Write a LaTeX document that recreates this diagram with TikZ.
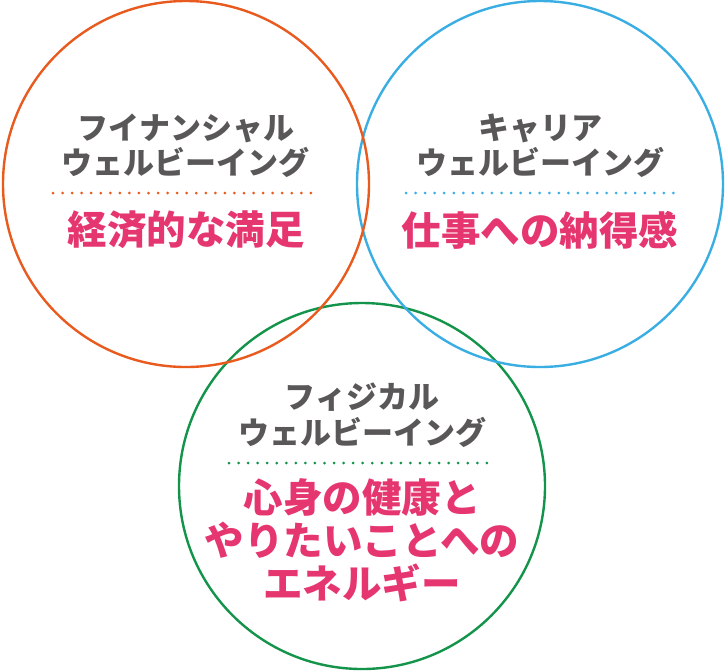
\documentclass[tikz,border=0pt]{standalone}
\usepackage{fontspec}
\newfontfamily\jp{Noto Sans CJK JP}
\definecolor{corange}{HTML}{E95A1E}
\definecolor{cblue}{HTML}{3AAEE3}
\definecolor{cgreen}{HTML}{13944A}
\definecolor{cpink}{HTML}{E5366F}
\definecolor{cgray}{HTML}{595757}
\tikzset{
  ring/.style={circle, draw, line width=2.4pt, minimum size=366pt, inner sep=0pt},
  head/.style={text=cgray, font=\jp\bfseries\fontsize{31}{35}\selectfont, inner sep=0pt, align=center},
  main/.style={text=cpink, font=\jp\bfseries\fontsize{39.5}{43}\selectfont, inner sep=0pt, align=center},
  dots/.style={line width=3pt, line cap=round, dash pattern=on 0pt off 9.55pt},
}
\begin{document}
\begin{tikzpicture}[x=1pt,y=1pt]
\useasboundingbox (0,0) rectangle (725,-670);
\node[ring, draw=cgreen] (phy) at (362,-486) {};
\node[ring, draw=cblue] (car) at (540,-184) {};
\node[ring, draw=corange] (fin) at (186,-184) {};
% financial
\node[head] (finh1) at (186,-128) {フイナンシャル};
\node[head] (finh2) at (185,-162) {ウェルビーイング};
\coordinate (finl) at (53,-193);
\coordinate (finr) at (320,-193);
\draw[dots, corange] (finl) -- (finr);
\node[main] (finm) at (186,-230) {経済的な満足};
% career
\node[head] (carh1) at (540,-128) {キャリア};
\node[head] (carh2) at (540,-162) {ウェルビーイング};
\coordinate (carl) at (406,-193);
\coordinate (carr) at (676,-193);
\draw[dots, cblue] (carl) -- (carr);
\node[main] (carm) at (540,-230) {仕事への納得感};
% physical
\node[head] (phyh1) at (362,-397) {フィジカル};
\node[head] (phyh2) at (362,-432) {ウェルビーイング};
\coordinate (phyl) at (229,-463);
\coordinate (phyr) at (496,-463);
\draw[dots, cgreen] (phyl) -- (phyr);
\node[main] (phym) at (362,-540) {心身の健康と\\やりたいことへの\\エネルギー};
\end{tikzpicture}
\end{document}
